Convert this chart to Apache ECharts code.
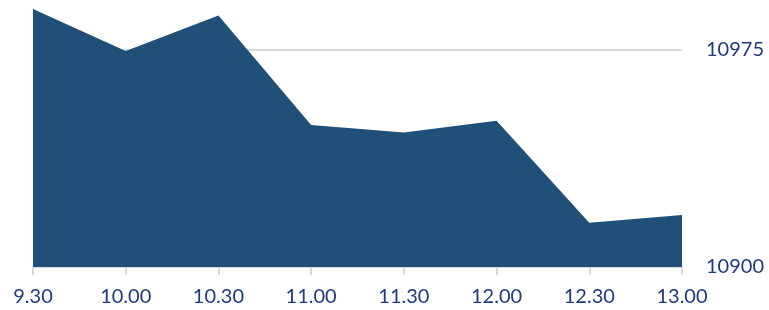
<!DOCTYPE html>
<html>
<head>
<meta charset="utf-8">
<script src="https://cdn.jsdelivr.net/npm/echarts@6/dist/echarts.min.js"></script>
<style>
  html, body { margin: 0; padding: 0; background: #fff; }
  #chart { width: 769px; height: 310px; }
</style>
</head>
<body>
<div id="chart"></div>
<script>
var times = ["9.30", "10.00", "10.30", "11.00", "11.30", "12.00", "12.30", "13.00"];
var prices = [10989.0, 10974.5, 10986.7, 10949.0, 10946.4, 10950.4, 10915.3, 10917.9];
var yMin = 10900;
var yMax = 10990;
var yStep = 75;

var labelColor = "#1f3b7c";
var fillColor = "#204f78";

var myChart = echarts.init(document.getElementById("chart"));
var option = {
  animation: false,
  grid: { left: 33, right: 87, top: 6, bottom: 43 },
  xAxis: {
    type: "category",
    data: times,
    boundaryGap: false,
    axisLine: { show: true, lineStyle: { color: "#d9d9d9", width: 2 } },
    axisTick: { show: true, length: 8, lineStyle: { color: "#d9d9d9", width: 2 } },
    axisLabel: { color: labelColor, fontFamily: "Lato", fontSize: 20, margin: 20 },
    splitLine: { show: false }
  },
  yAxis: {
    type: "value",
    position: "right",
    min: yMin,
    max: yMax,
    interval: yStep,
    axisLine: { show: false },
    axisTick: { show: false },
    axisLabel: {
      color: labelColor, fontFamily: "Lato", fontSize: 20, margin: 24, showMaxLabel: false,
      formatter: function (v) { return String(v); }
    },
    splitLine: {
      show: true,
      showMinLine: false,
      showMaxLine: false,
      lineStyle: { color: "#d9d9d9", width: 2 }
    }
  },
  series: [{
    type: "line",
    data: prices,
    showSymbol: false,
    symbol: "none",
    lineStyle: { width: 0 },
    areaStyle: { color: fillColor, opacity: 1 },
    z: 3
  }]
};
myChart.setOption(option);
</script>
</body>
</html>
